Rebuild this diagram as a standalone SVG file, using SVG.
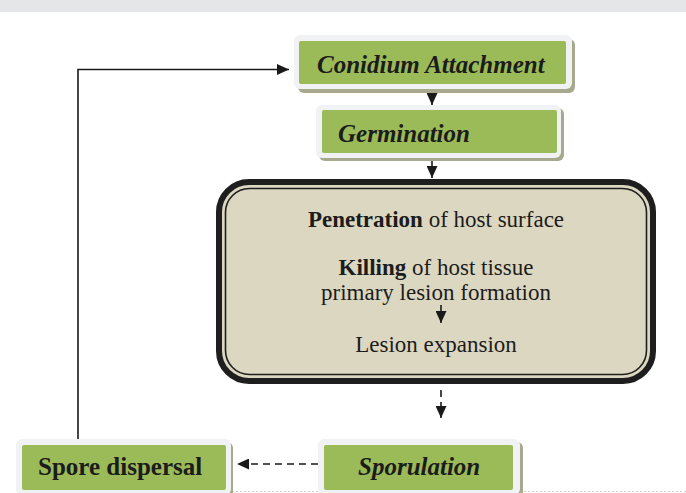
<svg xmlns="http://www.w3.org/2000/svg" width="686" height="493" viewBox="0 0 686 493">
<defs>
<marker id="ah" markerWidth="12" markerHeight="11" refX="12" refY="5.5" orient="auto" markerUnits="userSpaceOnUse">
<path d="M0,0 L12,5.5 L0,11 Z" fill="#1a1a1a"/>
</marker>
</defs>
<style>
.shadow{fill:#a6a98e}
.outer{fill:#f1f2f3}
.green{fill:#9bbb59}
.lbl{font-family:"Liberation Serif",serif;font-size:25px;font-weight:bold;fill:#1c1c1c}
.it{font-style:italic}
.body{font-family:"Liberation Serif",serif;font-size:23px;fill:#1c1c1c;text-anchor:middle}
.conn{stroke:#1a1a1a;stroke-width:1.6;fill:none}
.dash{stroke-dasharray:7 5}
</style>
<rect x="0" y="0" width="686" height="12" fill="#e5e6e8"/>
<line x1="20" y1="491.5" x2="686" y2="491.5" stroke="#cfcfcf" stroke-width="1" stroke-dasharray="2 2"/>

<g id="connectors">
<path class="conn" d="M78,439 V69.5 H289" marker-end="url(#ah)"/>
<path class="conn" d="M432,89 V105" marker-end="url(#ah)"/>
<path class="conn" d="M432,158 V178" marker-end="url(#ah)"/>
<path class="conn dash" d="M441,390 V418" marker-end="url(#ah)"/>
<path class="conn dash" d="M318,464 H237" marker-end="url(#ah)"/>
</g>

<g id="conidium">
<rect class="shadow" x="298" y="39" width="277" height="54" rx="6"/>
<rect class="outer" x="294" y="35" width="278" height="54" rx="6"/>
<rect class="green" x="299" y="41" width="267" height="43" rx="2"/>
<text class="lbl it" x="317" y="73">Conidium Attachment</text>
</g>

<g id="germination">
<rect class="shadow" x="319" y="108" width="245" height="53" rx="6"/>
<rect class="outer" x="316" y="105" width="245" height="53" rx="6"/>
<rect class="green" x="322" y="110" width="235" height="43" rx="2"/>
<text class="lbl it" x="338" y="142">Germination</text>
</g>

<g id="infection">
<rect x="219" y="182" width="434" height="199" rx="30" fill="#dcd7c0" stroke="#1e1e1e" stroke-width="6"/>
<rect x="225.5" y="188.5" width="421" height="186" rx="24" fill="none" stroke="#1e1e1e" stroke-width="1.6"/>
<text class="body" x="436" y="227"><tspan font-weight="bold">Penetration</tspan> of host surface</text>
<text class="body" x="436" y="275"><tspan font-weight="bold">Killing</tspan> of host tissue</text>
<text class="body" x="436" y="300">primary lesion formation</text>
<path class="conn" d="M441,305 V323" marker-end="url(#ah)"/>
<text class="body" x="436" y="352">Lesion expansion</text>
</g>

<g id="sporulation">
<rect class="shadow" x="321" y="442" width="202" height="56" rx="6"/>
<rect class="outer" x="318" y="439" width="202" height="56" rx="6"/>
<rect class="green" x="324" y="445" width="189" height="45" rx="2"/>
<text class="lbl it" x="358" y="475">Sporulation</text>
</g>

<g id="spore-dispersal">
<rect class="shadow" x="19" y="442" width="214" height="56" rx="6"/>
<rect class="outer" x="16" y="439" width="215" height="56" rx="6"/>
<rect class="green" x="22" y="445" width="204" height="45" rx="2"/>
<text class="lbl" x="38" y="475">Spore dispersal</text>
</g>
</svg>
